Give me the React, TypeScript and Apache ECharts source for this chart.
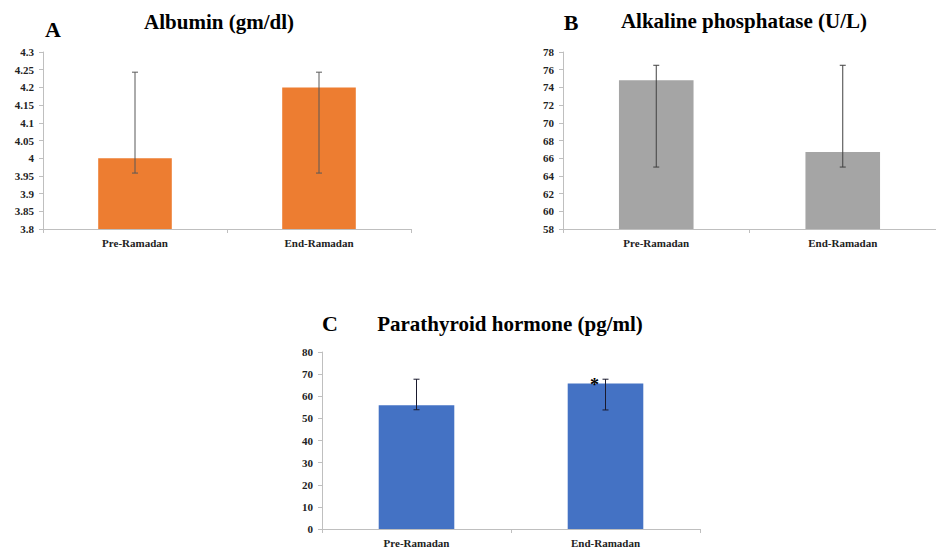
import React, { useEffect, useRef } from "react";
import * as echarts from "echarts";

const categories = ["Pre-Ramadan", "End-Ramadan"];

const albuminMean = [4.0, 4.2];
const albuminLow = [3.958, 3.958];
const albuminHigh = [4.243, 4.243];

const alpMean = [74.8, 66.7];
const alpLow = [65.0, 65.0];
const alpHigh = [76.5, 76.5];

const pthMean = [55.9, 65.8];
const pthLow = [53.9, 53.8];
const pthHigh = [67.7, 67.7];
const pthSignificance = ["", "*"];

const FONT = "Liberation Serif";

function errData(low: number[], high: number[]) {
  return low.map((l, i) => [i, l, high[i]]);
}

function errSeries(idx: number, low: number[], high: number[], color: string, sig?: string[]) {
  return {
    type: "custom",
    xAxisIndex: idx,
    yAxisIndex: idx,
    data: errData(low, high),
    encode: { x: 0, y: [1, 2] },
    z: 5,
    renderItem: (params: any, api: any) => {
      const i = api.value(0);
      const top = api.coord([i, api.value(2)]);
      const bot = api.coord([i, api.value(1)]);
      const cap = 3;
      const style = { stroke: color, lineWidth: 1 };
      const children: any[] = [
        { type: "line", shape: { x1: top[0], y1: top[1], x2: bot[0], y2: bot[1] }, style },
        { type: "line", shape: { x1: top[0] - cap, y1: top[1], x2: top[0] + cap, y2: top[1] }, style },
        { type: "line", shape: { x1: bot[0] - cap, y1: bot[1], x2: bot[0] + cap, y2: bot[1] }, style },
      ];
      if (sig && sig[params.dataIndex]) {
        children.push({
          type: "text",
          x: top[0] - 11,
          y: top[1] + 6,
          style: {
            text: sig[params.dataIndex],
            fontFamily: FONT,
            fontWeight: "bold",
            fontSize: 18,
            fill: "#000",
            textAlign: "center",
            textVerticalAlign: "middle",
          },
        });
      }
      return { type: "group", children };
    },
  };
}

function xAxis(gridIndex: number) {
  return {
    type: "category",
    gridIndex,
    data: categories,
    axisLine: { lineStyle: { color: "#BFBFBF", width: 1 } },
    axisTick: { show: true, length: 4, lineStyle: { color: "#BFBFBF" } },
    axisLabel: { fontFamily: FONT, fontWeight: "bold", fontSize: 11, color: "#222", margin: 8 },
  };
}

function yAxis(gridIndex: number, min: number, max: number, interval: number) {
  return {
    type: "value",
    gridIndex,
    min,
    max,
    interval,
    splitLine: { show: false },
    axisLine: { show: true, lineStyle: { color: "#BFBFBF", width: 1 } },
    axisTick: { show: true, length: 4, lineStyle: { color: "#BFBFBF" } },
    axisLabel: { fontFamily: FONT, fontWeight: "bold", fontSize: 11, color: "#222", margin: 9 },
  };
}

function titleText(x: number, y: number, text: string, size: number) {
  return {
    type: "text",
    x,
    y,
    style: {
      text,
      fontFamily: FONT,
      fontWeight: "bold",
      fontSize: size,
      fill: "#000",
      textAlign: "center",
      textVerticalAlign: "middle",
    },
  };
}

export default function App() {
  const ref = useRef<HTMLDivElement>(null);
  useEffect(() => {
    document.body.style.margin = "0";
    const chart = echarts.init(ref.current!, null, { renderer: "svg" });
    chart.setOption({
      animation: false,
      backgroundColor: "#fff",
      grid: [
        { left: 43, top: 52, width: 368, height: 177 },
        { left: 563, top: 52, width: 380, height: 177 },
        { left: 322, top: 352, width: 378, height: 177 },
      ],
      xAxis: [xAxis(0), xAxis(1), xAxis(2)],
      yAxis: [yAxis(0, 3.8, 4.3, 0.05), yAxis(1, 58, 78, 2), yAxis(2, 0, 80, 10)],
      series: [
        { type: "bar", xAxisIndex: 0, yAxisIndex: 0, data: albuminMean, barWidth: "40%", itemStyle: { color: "#ED7D31" } },
        { type: "bar", xAxisIndex: 1, yAxisIndex: 1, data: alpMean, barWidth: "40%", itemStyle: { color: "#A5A5A5" } },
        { type: "bar", xAxisIndex: 2, yAxisIndex: 2, data: pthMean, barWidth: "40%", itemStyle: { color: "#4472C4" } },
        errSeries(0, albuminLow, albuminHigh, "#595959"),
        errSeries(1, alpLow, alpHigh, "#404040"),
        errSeries(2, pthLow, pthHigh, "#1a1a2e", pthSignificance),
      ],
      graphic: [
        titleText(53, 29, "A", 22),
        titleText(219, 22, "Albumin (gm/dl)", 21),
        titleText(571, 22, "B", 22),
        titleText(744, 21, "Alkaline phosphatase (U/L)", 21),
        titleText(330, 323, "C", 22),
        titleText(510, 324, "Parathyroid hormone (pg/ml)", 21),
      ],
    });
    return () => chart.dispose();
  }, []);
  return <div ref={ref} style={{ width: 936, height: 549 }} />;
}
